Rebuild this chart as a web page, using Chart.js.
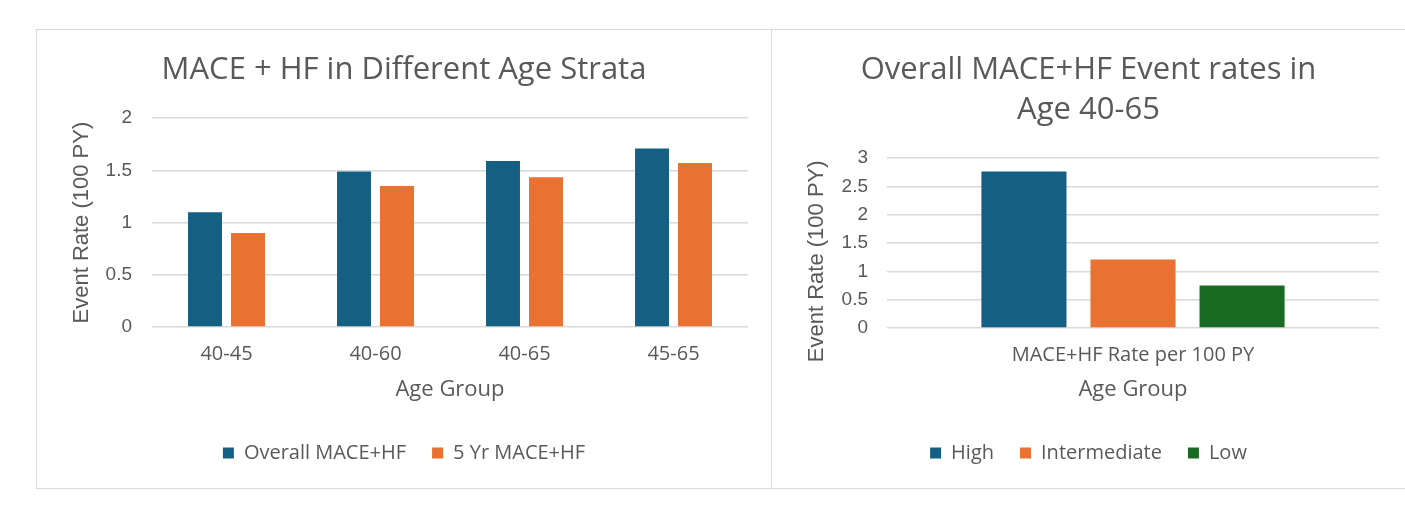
<!DOCTYPE html>
<html>
<head>
<meta charset="utf-8">
<script src="https://cdn.jsdelivr.net/npm/chart.js@4/dist/chart.umd.min.js"></script>
<style>
  html,body{margin:0;padding:0;background:#fff;overflow:hidden;}
  body{width:1405px;height:512px;position:relative;}
  .panel{position:absolute;top:29px;height:458px;border:1px solid #d9d9d9;background:#fff;}
  #leftPanel{left:36px;width:734px;}
  #rightPanel{left:771px;width:700px;border-right:none;}
  canvas{display:block;}
</style>
</head>
<body>
<div class="panel" id="leftPanel"><canvas id="ageChart" width="734" height="458"></canvas></div>
<div class="panel" id="rightPanel"><canvas id="riskChart" width="633" height="458"></canvas></div>

<script>
/* ===== Data ===== */
const ageGroups = ["40-45","40-60","40-65","45-65"];
const overallRate = [1.10, 1.49, 1.59, 1.71];
const fiveYrRate = [0.90, 1.35, 1.435, 1.57];

const riskCategory = ["MACE+HF Rate per 100 PY"];
const highRate = [2.76];
const intermediateRate = [1.21];
const lowRate = [0.75];

const ageTicks = [0, 0.5, 1, 1.5, 2];
const riskTicks = [0, 0.5, 1, 1.5, 2, 2.5, 3];

/* ===== Styles ===== */
const BLUE = "#156082", ORANGE = "#E97132", GREEN = "#196B24";
const TEXT = "#595959", GRID = "#d9d9d9";
const SANS = "'Open Sans', 'Noto Sans', sans-serif";
const ARIAL = "'Liberation Sans', Arial, sans-serif";
const Y_TITLE = "Event Rate (100 PY)";

Chart.defaults.color = TEXT;
Chart.defaults.animation = false;

// side = equal padding left/right so title + legend stay centred on the canvas
function baseOptions(opt){
  return {
    responsive:false,
    devicePixelRatio:1,
    layout:{padding:{left:opt.side, right:opt.side, top:0, bottom:15}},
    plugins:{
      title:{
        display:true,
        text:opt.title,
        color:TEXT,
        font:{family:SANS, size:31, weight:"normal", lineHeight:opt.titleLH},
        padding:{top:opt.titleTop, bottom:opt.titleBottom}
      },
      legend:{
        position:"bottom",
        labels:{color:TEXT, font:{family:SANS, size:20}, boxWidth:11, boxHeight:11, padding:26}
      },
      tooltip:{enabled:false}
    },
    scales:{
      x:{
        grid:{display:false},
        border:{display:false},
        ticks:{color:TEXT, font:{family:SANS, size:20}, padding:7},
        title:{display:true, text:"Age Group", color:TEXT,
               font:{family:SANS, size:22}, padding:{top:8, bottom:14}},
        afterFit:s=>{ s.height = opt.xHeight; }
      },
      y:{
        min:0, max:opt.max,
        afterBuildTicks:s=>{ s.ticks = opt.ticks.map(v=>({value:v})); },
        grid:{color:GRID, lineWidth:1.5, drawTicks:false},
        border:{display:false},
        ticks:{color:TEXT, font:{family:ARIAL, size:19}, padding:opt.yPad,
               callback:v=>String(v)},
        title:{display:true, text:opt.yTitle, color:TEXT,
               font:{family:ARIAL, size:22}, padding:{top:32-opt.side, bottom:0}},
        afterFit:s=>{ s.width = 115 - opt.side; }
      }
    }
  };
}

/* ===== Left: age strata ===== */
new Chart(document.getElementById("ageChart"),{
  type:"bar",
  data:{
    labels:ageGroups,
    datasets:[
      {label:"Overall MACE+HF", data:overallRate, backgroundColor:BLUE,
       categoryPercentage:0.577, barPercentage:0.79},
      {label:"5 Yr MACE+HF", data:fiveYrRate, backgroundColor:ORANGE,
       categoryPercentage:0.577, barPercentage:0.79}
    ]
  },
  options:baseOptions({
    title:"MACE + HF in Different Age Strata", titleLH:1.2, titleTop:22, titleBottom:29,
    side:23, xHeight:90, max:2, ticks:ageTicks, yPad:20, yTitle:Y_TITLE
  })
});

/* ===== Right: risk groups ===== */
// trailing nbsp pushes the rotated axis title a bit below the plot centre, as in the original
new Chart(document.getElementById("riskChart"),{
  type:"bar",
  data:{
    labels:riskCategory,
    datasets:[
      {label:"High", data:highRate, backgroundColor:BLUE,
       categoryPercentage:0.665, barPercentage:0.78},
      {label:"Intermediate", data:intermediateRate, backgroundColor:ORANGE,
       categoryPercentage:0.665, barPercentage:0.78},
      {label:"Low", data:lowRate, backgroundColor:GREEN,
       categoryPercentage:0.665, barPercentage:0.78}
    ]
  },
  options:baseOptions({
    title:["Overall MACE+HF Event rates in","Age 40-65"], titleLH:1.29, titleTop:20, titleBottom:28,
    side:26, xHeight:89, max:3, ticks:riskTicks, yPad:19,
    yTitle:Y_TITLE + "\u00a0".repeat(6)
  })
});
</script>
</body>
</html>
